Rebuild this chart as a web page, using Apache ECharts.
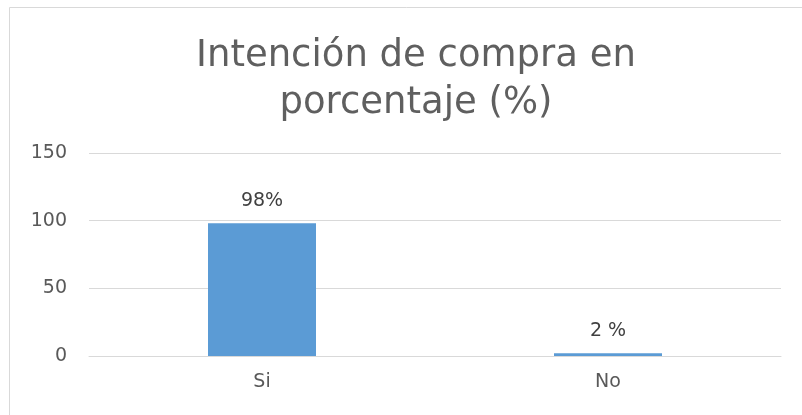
<!DOCTYPE html>
<html>
<head>
<meta charset="utf-8">
<style>
html,body{margin:0;padding:0;background:#fff;}
#chart{width:802px;height:415px;}
</style>
<script src="https://cdn.jsdelivr.net/npm/echarts@6/dist/echarts.min.js"></script>
</head>
<body>
<div id="chart"></div>
<script>
const titleText = 'Intención de compra en\nporcentaje (%)';
const categories = ['Si', 'No'];
const values = [98, 2];
const valueLabels = ['98%', '2 %'];
const yTicks = [0, 50, 100, 150];

const chart = echarts.init(document.getElementById('chart'), null, {renderer: 'canvas'});
const FONT = 'DejaVu Sans';
chart.setOption({
  animation: false,
  backgroundColor: '#ffffff',
  graphic: [{
    type: 'rect',
    shape: {x: 9.5, y: 7.5, width: 820, height: 430},
    style: {fill: 'none', stroke: '#d9d9d9', lineWidth: 1},
    silent: true,
    z: -1
  }],
  title: {
    text: titleText,
    left: 411,
    top: 28,
    textAlign: 'center',
    textStyle: {
      fontFamily: FONT,
      fontSize: 37,
      fontWeight: 'normal',
      color: '#5f5f5f',
      lineHeight: 47
    }
  },
  grid: {left: 89, right: 21, top: 153, bottom: 59, containLabel: false},
  xAxis: {
    type: 'category',
    data: categories,
    axisLine: {show: true, lineStyle: {color: '#d9d9d9', width: 1}},
    axisTick: {show: false},
    axisLabel: {fontFamily: FONT, fontSize: 19, color: '#595959', margin: 17}
  },
  yAxis: {
    type: 'value',
    min: yTicks[0],
    max: yTicks[yTicks.length - 1],
    interval: yTicks[1] - yTicks[0],
    axisLine: {show: false},
    axisTick: {show: false},
    splitLine: {lineStyle: {color: '#d9d9d9', width: 1}},
    axisLabel: {fontFamily: FONT, fontSize: 19, color: '#595959', margin: 22}
  },
  series: [{
    type: 'bar',
    data: values,
    barWidth: 108,
    itemStyle: {color: '#5b9bd5'},
    label: {
      show: true,
      position: 'top',
      distance: 13,
      fontFamily: FONT,
      fontSize: 19,
      color: '#404040',
      formatter: p => valueLabels[p.dataIndex]
    }
  }]
});
</script>
</body>
</html>
